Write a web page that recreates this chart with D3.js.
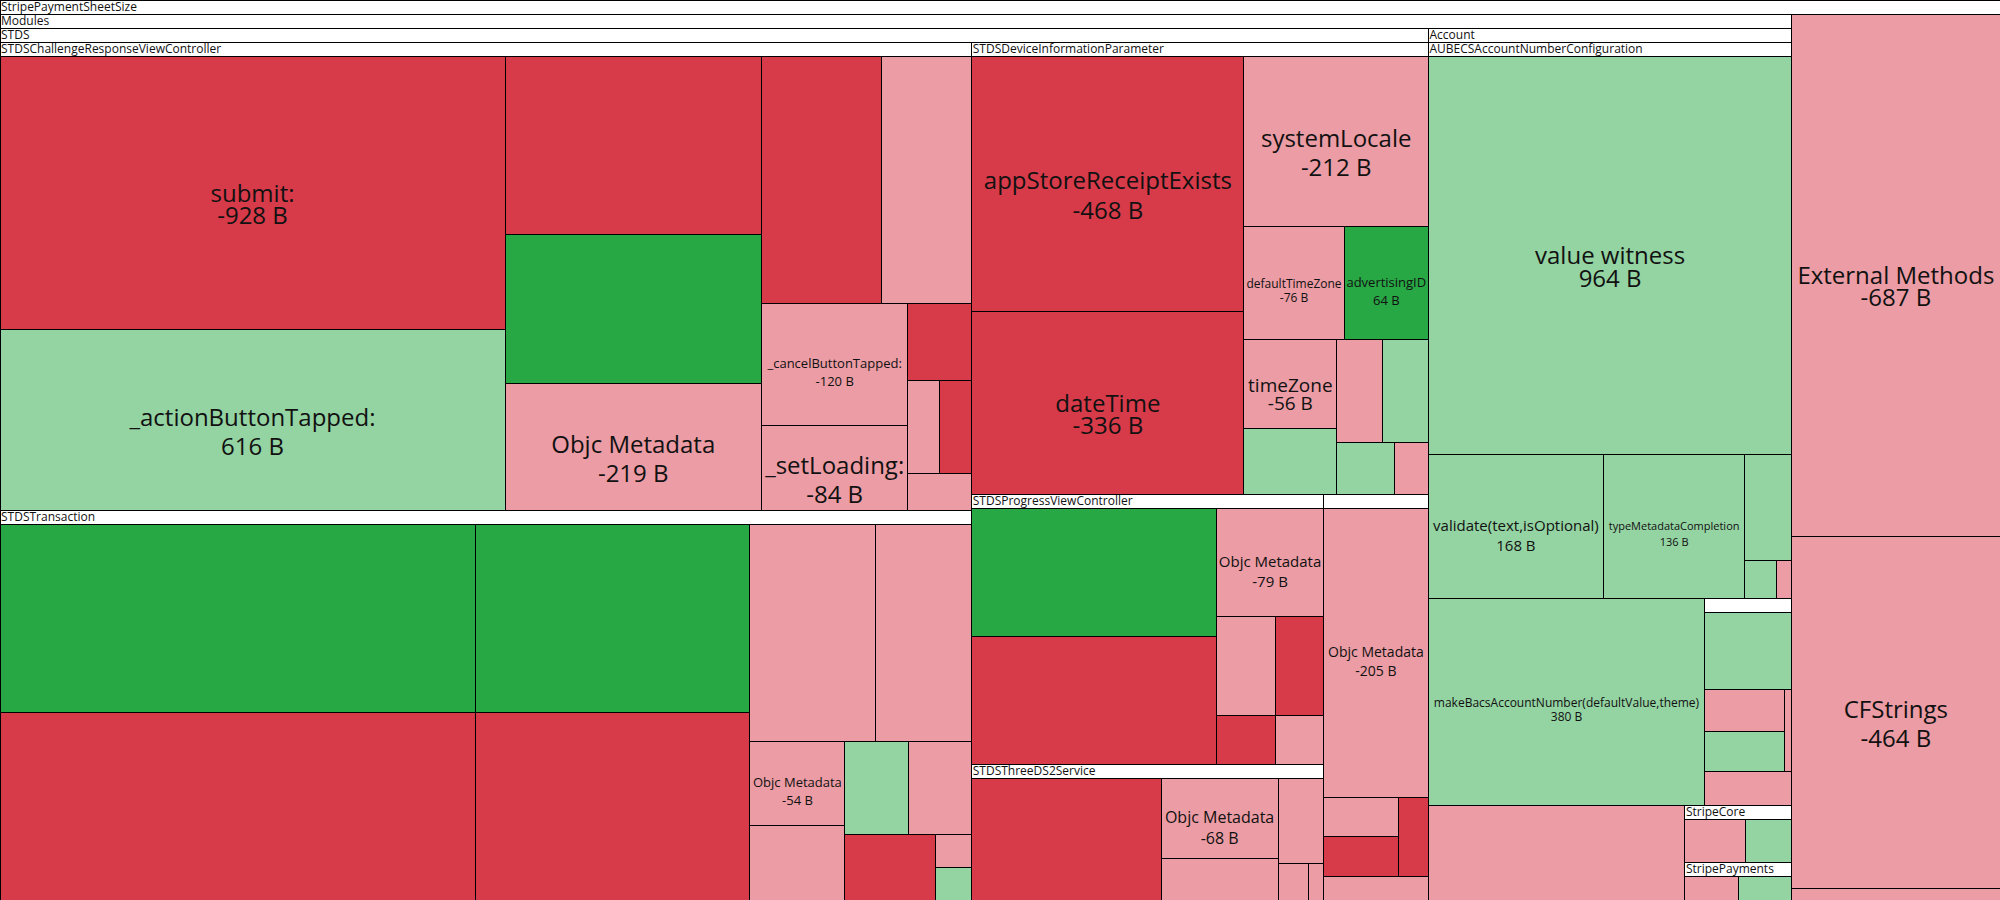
<!DOCTYPE html>
<html>
<head>
<meta charset="utf-8">
<script src="https://cdn.jsdelivr.net/npm/d3@7"></script>
<style>
  html, body { margin: 0; padding: 0; background: #ffffff; overflow: hidden; }
  svg { display: block; }
</style>
</head>
<body>
<svg id="chart" width="2000" height="900"></svg>
<script>
// ---------------- DATA ----------------
// Leaf: [name, size delta in bytes, kind]  kind: "added" | "removed" | "changed"
// "@id" refers to a named group; a plain nested array is an unnamed sub-group.
const rootLabel = "StripePaymentSheetSize";
const rootItems = [
  "@modules",
  ["External Methods", -687, "changed"],
  ["CFStrings", -464, "changed"],
  ["", -15, "changed"]
];

const modulesLabel = "Modules";
const modulesItems = ["@stds", "@account", ["", -156, "changed"], "@stripeCore", "@stripePayments"];

const stdsLabel = "STDS";
const stdsItems = ["@challenge", "@transaction", "@deviceInfo", "@progress", "@threeDS2", "@stdsOther"];

const challengeLabel = "STDSChallengeResponseViewController";
const challengeItems = [
  ["submit:", -928, "removed"],
  ["_actionButtonTapped:", 616, "changed"],
  ["", -308, "removed"],
  ["", 257, "added"],
  ["Objc Metadata", -219, "changed"],
  ["", -200, "removed"],
  ["", -150, "changed"],
  ["_cancelButtonTapped:", -120, "changed"],
  ["_setLoading:", -84, "changed"],
  ["", -33, "removed"],
  ["", -20, "changed"],
  ["", -20, "removed"],
  ["", -16, "changed"]
];

const transactionLabel = "STDSTransaction";
const transactionItems = [
  ["", 604, "added"],
  ["", -604, "removed"],
  ["", 349, "added"],
  ["", -349, "removed"],
  ["", -185, "changed"],
  ["", -141, "changed"],
  ["Objc Metadata", -54, "changed"],
  ["", -48, "changed"],
  ["", 40, "changed"],
  ["", -40, "changed"],
  ["", -40, "removed"],
  ["", -8, "changed"],
  ["", 8, "changed"]
];

const deviceInfoLabel = "STDSDeviceInformationParameter";
const deviceInfoItems = [
  ["appStoreReceiptExists", -468, "removed"],
  ["dateTime", -336, "removed"],
  ["systemLocale", -212, "changed"],
  ["defaultTimeZone", -76, "changed"],
  ["advertisingID", 64, "added"],
  ["timeZone", -56, "changed"],
  ["", 41, "changed"],
  ["", -32, "changed"],
  ["", 32, "changed"],
  ["", 20, "changed"],
  ["", -12, "changed"]
];

const progressLabel = "STDSProgressViewController";
const progressItems = [
  ["", 216, "added"],
  ["", -216, "removed"],
  ["Objc Metadata", -79, "changed"],
  ["", -40, "changed"],
  ["", -33, "removed"],
  ["", -20, "removed"],
  ["", -16, "changed"]
];

const threeDS2Label = "STDSThreeDS2Service";
const threeDS2Items = [
  ["", -167, "removed"],
  ["Objc Metadata", -68, "changed"],
  ["", -35, "changed"],
  ["", -28, "changed"],
  ["", -8, "changed"],
  ["", -4, "changed"]
];

const stdsOtherLabel = "";
const stdsOtherItems = [
  ["Objc Metadata", -205, "changed"],
  [[["", -20, "changed"], ["", -20, "removed"]], ["", -16, "removed"]],
  ["", -17, "changed"]
];

const accountLabel = "Account";
const accountItems = ["@aubecs"];

const aubecsLabel = "AUBECSAccountNumberConfiguration";
const aubecsItems = [
  ["value witness", 964, "changed"],
  [["validate(text,isOptional)", 168, "changed"],
   ["typeMetadataCompletion", 136, "changed"],
   [["", 33, "changed"], [["", 8, "changed"], ["", -4, "changed"]]]],
  [["makeBacsAccountNumber(defaultValue,theme)", 380, "changed"], "@bacsOther"]
];

const bacsOtherLabel = "";
const bacsOtherItems = [
  ["", 48, "changed"],
  [[["", -24, "changed"], ["", 23, "changed"]], ["", -4, "changed"]],
  ["", -21, "changed"]
];

const stripeCoreLabel = "StripeCore";
const stripeCoreItems = [["", -22, "changed"], ["", 17, "changed"]];

const stripePaymentsLabel = "StripePayments";
const stripePaymentsItems = [["", -13, "changed"], ["", 13, "changed"]];

// registry of named groups built from the arrays above
const groupTable = {
  modules: [modulesLabel, modulesItems],
  stds: [stdsLabel, stdsItems],
  challenge: [challengeLabel, challengeItems],
  transaction: [transactionLabel, transactionItems],
  deviceInfo: [deviceInfoLabel, deviceInfoItems],
  progress: [progressLabel, progressItems],
  threeDS2: [threeDS2Label, threeDS2Items],
  stdsOther: [stdsOtherLabel, stdsOtherItems],
  account: [accountLabel, accountItems],
  aubecs: [aubecsLabel, aubecsItems],
  bacsOther: [bacsOtherLabel, bacsOtherItems],
  stripeCore: [stripeCoreLabel, stripeCoreItems],
  stripePayments: [stripePaymentsLabel, stripePaymentsItems]
};

// ---------------- BUILD ----------------
const W = 2000, H = 900, HEADER = 14;
const FONT = "'Open Sans', 'Noto Sans', sans-serif";

function buildGroup(label, items) {
  return { name: label, anon: false, children: items.map(toNode) };
}
function toNode(item) {
  if (typeof item === "string") {
    const g = groupTable[item.slice(1)];
    return buildGroup(g[0], g[1]);
  }
  if (typeof item[0] === "string" && typeof item[1] === "number") {
    return { name: item[0], delta: item[1], kind: item[2] };
  }
  return { name: null, anon: true, children: item.map(toNode) };
}

const root = d3.hierarchy(buildGroup(rootLabel, rootItems))
  .sum(d => d.children ? 0 : Math.abs(d.delta));

function tile(node, x0, y0, x1, y1) {
  if (node.children.length <= 3) {
    (y1 - y0 > x1 - x0 ? d3.treemapSlice : d3.treemapDice)(node, x0, y0, x1, y1);
  } else {
    d3.treemapSquarify(node, x0, y0, x1, y1);
  }
}

d3.treemap()
  .size([W, H])
  .paddingTop(d => d.data.anon ? 0 : HEADER)
  .tile(tile)(root);

const color = d3.scaleOrdinal()
  .domain(["added", "removed", "grew", "shrank"])
  .range(["#28a745", "#d73a49", "#94d3a2", "#eb9ca4"]);
const colorKey = d => d.kind === "changed" ? (d.delta > 0 ? "grew" : "shrank") : d.kind;

const svg = d3.select("#chart");
const gRects = svg.append("g");
const gLabels = svg.append("g");

const nodes = root.descendants();

// group boxes with header bands
const groups = nodes.filter(d => d.children && !d.data.anon);
gRects.selectAll("rect.group").data(groups).join("rect")
  .attr("class", "group")
  .attr("x", d => d.x0).attr("y", d => d.y0)
  .attr("width", d => d.x1 - d.x0).attr("height", d => d.y1 - d.y0)
  .attr("fill", "#ffffff").attr("stroke", "#000").attr("stroke-width", 1)
  .attr("shape-rendering", "crispEdges");

gLabels.selectAll("text.header").data(groups.filter(d => d.data.name)).join("text")
  .attr("class", "header")
  .attr("x", d => d.x0 + 1).attr("y", d => d.y0 + 10.5)
  .attr("font-family", FONT).attr("font-size", 12).attr("fill", "#111")
  .text(d => d.data.name);

// leaves
const leaves = root.leaves();
gRects.selectAll("rect.leaf").data(leaves).join("rect")
  .attr("class", "leaf")
  .attr("x", d => d.x0).attr("y", d => d.y0)
  .attr("width", d => d.x1 - d.x0).attr("height", d => d.y1 - d.y0)
  .attr("fill", d => color(colorKey(d.data)))
  .attr("stroke", "#000").attr("stroke-width", 1)
  .attr("shape-rendering", "crispEdges");

// leaf labels
const meas = svg.append("text").attr("font-family", FONT).attr("font-size", 24)
  .attr("visibility", "hidden");
function widthAt24(s) { meas.text(s); return meas.node().getComputedTextLength(); }

leaves.filter(d => d.data.name).forEach(d => {
  const w = d.x1 - d.x0;
  const line1 = d.data.name;
  const line2 = d.data.delta + " B";
  const maxW = Math.max(widthAt24(line1), widthAt24(line2));
  const f = Math.max(6, Math.min(24, Math.floor(24 * (w - 4) / maxW)));
  const desc = /[gjpqy_]/.test(line1);
  const gap = 0.714 * f + 5 + (desc ? 0.29 * f : 0);
  const off = 0.3 * f + 4;
  const cx = (d.x0 + d.x1) / 2, cy = (d.y0 + d.y1) / 2;
  const b1 = cy + off - (gap - 0.76 * f) / 2;
  const t = gLabels.append("text")
    .attr("font-family", FONT).attr("font-size", f).attr("fill", "#111")
    .attr("text-anchor", "middle");
  t.append("tspan").attr("x", cx).attr("y", b1).text(line1);
  t.append("tspan").attr("x", cx).attr("y", b1 + gap).text(line2);
});
meas.remove();
</script>
</body>
</html>
